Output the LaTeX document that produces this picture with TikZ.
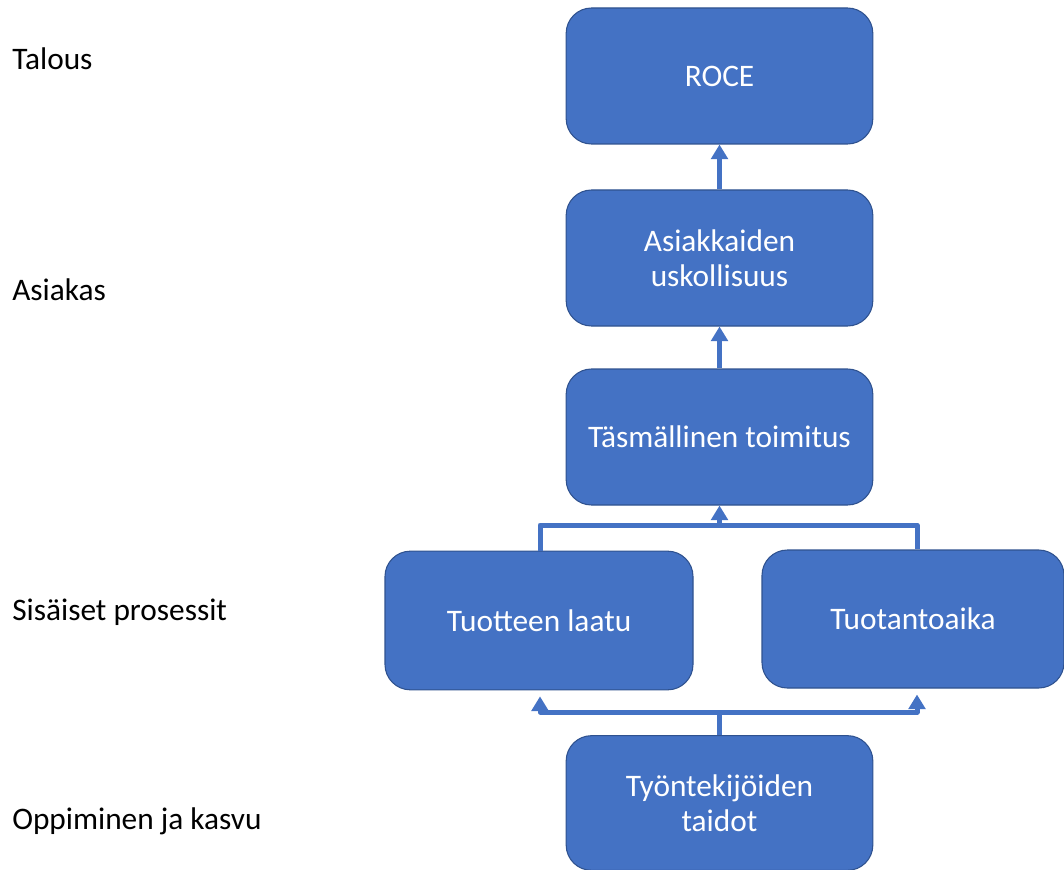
\documentclass[tikz,border=0pt]{standalone}
\usepackage{fontspec}
\setmainfont{Carlito}
\usepackage{tikz}
\usetikzlibrary{arrows.meta}
\definecolor{boxblue}{HTML}{4472C4}
\definecolor{boxedge}{HTML}{2F528F}

\begin{document}
\begin{tikzpicture}[x=0.75pt,y=-0.75pt,line join=round,
  mbox/.style={draw=boxedge,line width=.8pt,fill=boxblue,rounded corners=19pt,
    text=white,align=center,inner sep=0pt,font=\fontsize{23.5}{26.5}\selectfont},
  persp/.style={anchor=west,inner sep=0pt,font=\fontsize{23.5}{26}\selectfont},
  link/.style={draw=boxblue,line width=3.75pt},
  tip/.style={-{Triangle[length=11pt,width=12.5pt]}}]
\useasboundingbox (0,0) rectangle (1064,870);
\node[persp] (talous) at (12,59) {Talous};
\node[persp] (asiakas) at (12,290) {Asiakas};
\node[persp] (sisaiset) at (12,612) {Sisäiset prosessit};
\node[persp] (oppiminen) at (12,821) {Oppiminen ja kasvu};
\node[mbox,minimum width=230pt,minimum height=102pt] (roce) at (719.5,76) {ROCE};
\node[mbox,minimum width=230pt,minimum height=102pt] (uskoll) at (719.5,258) {Asiakkaiden\\uskollisuus};
\node[mbox,minimum width=230pt,minimum height=102pt] (toimitus) at (719.5,437) {Täsmällinen toimitus};
\node[mbox,minimum width=231pt,minimum height=104pt] (laatu) at (539,620.5) {Tuotteen laatu};
\node[mbox,minimum width=226.5pt,minimum height=103.5pt] (aika) at (913,619) {Tuotantoaika};
\node[mbox,minimum width=230pt,minimum height=101pt] (taidot) at (719.5,803) {Työntekijöiden\\taidot};
\coordinate (yla) at (719.5,525);
\coordinate (ala) at (719.5,712);
\draw[link,tip] (uskoll.north) -- (roce.south);
\draw[link,tip] (toimitus.north) -- (uskoll.south);
\draw[link] ([xshift=.75pt]laatu.north) |- (yla) -| ([xshift=3pt]aika.north);
\draw[link,tip] (yla) -- (toimitus.south);
\draw[link] (taidot.north) -- (ala);
\draw[link,tip,shorten >=4.5pt] (ala) -| ([xshift=.75pt]laatu.south);
\draw[link,tip,shorten >=4.5pt] (ala) -| ([xshift=3pt]aika.south);
\end{tikzpicture}
\end{document}
